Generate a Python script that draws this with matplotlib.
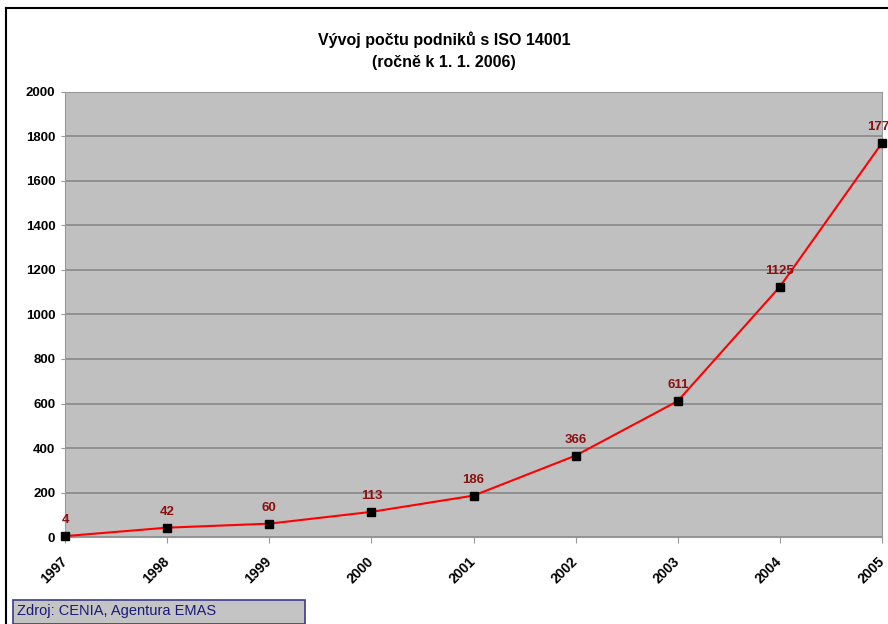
import matplotlib
matplotlib.use("Agg")
import matplotlib.pyplot as plt
from matplotlib.patches import Rectangle

years = ["1997", "1998", "1999", "2000", "2001", "2002", "2003", "2004", "2005"]
counts = [4, 42, 60, 113, 186, 366, 611, 1125, 1771]

plt.rcParams["font.family"] = ["Liberation Sans", "DejaVu Sans"]

fig = plt.figure(figsize=(8.88, 6.24), dpi=100)
ax = fig.add_axes([0.0732, 0.1394, 0.9201, 0.7132])

# frame of the whole chart
fig.add_artist(plt.Line2D([6 / 888, 6 / 888], [0, 1 - 8 / 624], color="black", lw=1.5))
fig.add_artist(plt.Line2D([6 / 888, 1], [1 - 8 / 624, 1 - 8 / 624], color="black", lw=1.5))

x = list(range(len(years)))
ax.set_facecolor("#c0c0c0")
ax.plot(x, counts, color="#ff0000", lw=1.5, marker="s", markersize=6,
        markerfacecolor="black", markeredgecolor="black", clip_on=False, zorder=3)
for xi, v in zip(x, counts):
    ax.annotate(str(v), (xi, v), xytext=(0, 7), textcoords="offset points",
                ha="center", va="bottom", fontsize=9.5, fontweight="bold",
                color="#8b1010", annotation_clip=False)

ax.set_xlim(0, len(years) - 1)
ax.set_ylim(0, 2000)
ax.set_yticks(range(0, 2001, 200))
ax.set_xticks(x)
ax.set_xticklabels(years, rotation=45, ha="right", va="center", rotation_mode="anchor")
ax.tick_params(axis="y", labelsize=9.5, length=3, color="#999999", pad=4)
ax.tick_params(axis="x", labelsize=10, length=4, color="#999999", pad=12)
for lab in ax.get_xticklabels() + ax.get_yticklabels():
    lab.set_fontweight("bold")
ax.grid(axis="y", color="#888888", lw=1.2)
ax.set_axisbelow(True)
for s in ax.spines.values():
    s.set_color("#999999")

fig.text(0.5, 1 - 40 / 624, "Vývoj počtu podniků s ISO 14001", ha="center", va="center",
         fontsize=11.5, fontweight="bold")
fig.text(0.5, 1 - 62 / 624, "(ročně k 1. 1. 2006)", ha="center", va="center",
         fontsize=11.5, fontweight="bold")

# source box
fig.add_artist(Rectangle((13 / 888, 0), 292 / 888, 24 / 624, transform=fig.transFigure,
                         facecolor="#c4c4c4", edgecolor="#3a3a8a", lw=1.2))
fig.text(17 / 888, 1 - 611 / 624, "Zdroj: CENIA, Agentura EMAS", ha="left", va="center",
         fontsize=10.5, color="#1a1a7a")

fig.savefig("out.png", dpi=100)
